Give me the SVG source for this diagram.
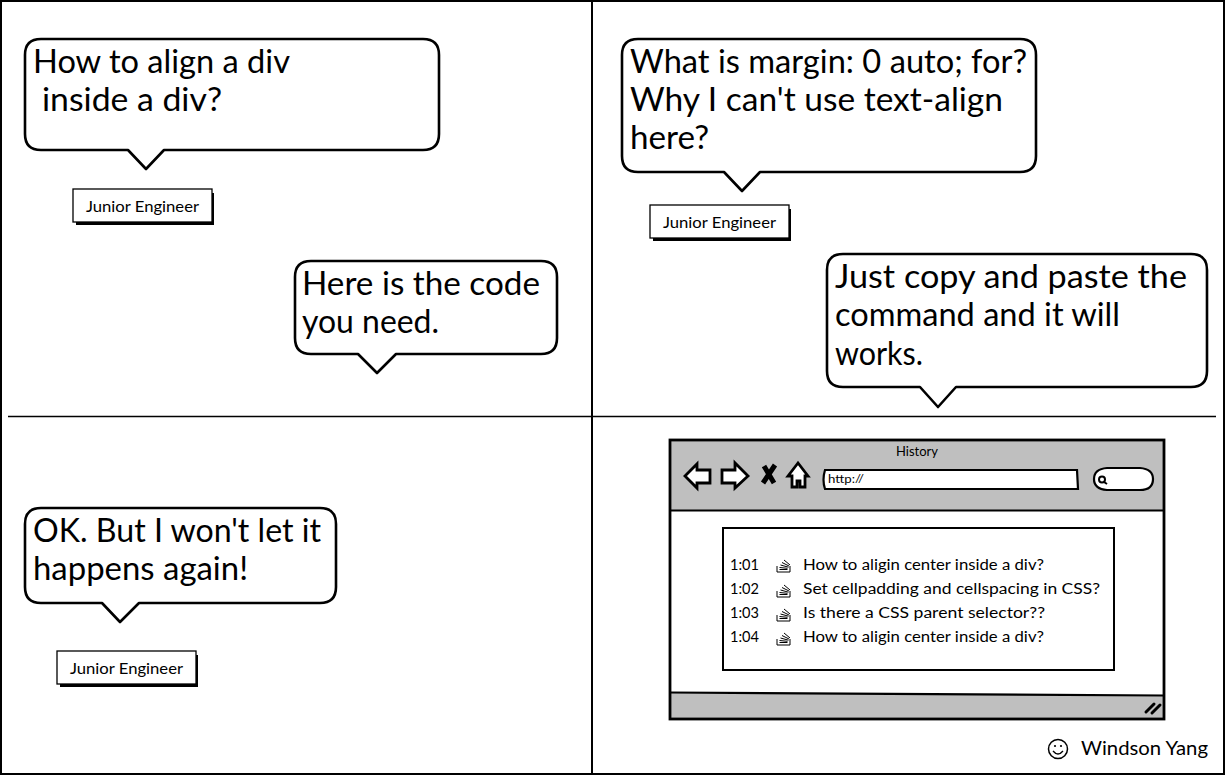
<svg xmlns="http://www.w3.org/2000/svg" width="1225" height="776" viewBox="0 0 1225 776">
<style>
text{font-family:"Lato","Open Sans","Liberation Sans",sans-serif;fill:#000}
.bt{font-size:32.500px}
.sm{font-size:16px}
.bub{fill:#fff;stroke:#000;stroke-width:2.600;stroke-linejoin:round}
.lbl{fill:#fff;stroke:#000;stroke-width:1.300}
.shadow{fill:#000}
.frame{fill:none;stroke:#000;stroke-width:2}
.ic{fill:#fff;stroke:#000;stroke-width:2.800;stroke-linejoin:miter}
.so{fill:none;stroke:#000;stroke-width:1}
</style>
<defs>
<g id="so"><path class="so" d="M-7 2v6h13V2M-4.500 5.500h8M-4.500 3.500l8 .8M-3.500 1l8 2.200M-2-1.500l7 3.500M0-4l6 5"/></g>
<g id="je">
<rect class="shadow" x="3" y="4" width="138" height="32"/>
<rect class="lbl" x="0" y="0" width="139" height="33"/>
<text x="13" y="23" class="sm" textLength="113" lengthAdjust="spacingAndGlyphs">Junior Engineer</text>
</g>
</defs>
<g id="connectors">
<rect class="frame" x="1" y="1" width="1223" height="773"/>
<path class="frame" d="M592 1V774"/>
<path d="M8 416.500H1216" fill="none" stroke="#000" stroke-width="1.500"/>
</g>
<g id="bubble1">
<path class="bub" d="M41 39H423Q439 39 439 55V134Q439 150 423 150H164L146 169L128 150H41Q25 150 25 134V55Q25 39 41 39Z"/>
<text class="bt" x="33" y="73" textLength="257" lengthAdjust="spacingAndGlyphs">How to align a div</text>
<text class="bt" x="42" y="111" textLength="180" lengthAdjust="spacingAndGlyphs">inside a div?</text>
</g>
<g id="label1"><use href="#je" x="73" y="189"/></g>
<g id="bubble2">
<path class="bub" d="M311 261H541Q557 261 557 277V338Q557 354 541 354H396L377 373L358 354H311Q295 354 295 338V277Q295 261 311 261Z"/>
<text class="bt" x="302" y="295" textLength="238" lengthAdjust="spacingAndGlyphs">Here is the code</text>
<text class="bt" x="302" y="333" textLength="137" lengthAdjust="spacingAndGlyphs">you need.</text>
</g>
<g id="bubble3">
<path class="bub" d="M638 39H1020Q1036 39 1036 55V156Q1036 172 1020 172H760L742 191L724 172H638Q622 172 622 156V55Q622 39 638 39Z"/>
<text class="bt" x="630" y="73" textLength="397" lengthAdjust="spacingAndGlyphs">What is margin: 0 auto; for?</text>
<text class="bt" x="630" y="111" textLength="373" lengthAdjust="spacingAndGlyphs">Why I can't use text-align</text>
<text class="bt" x="630" y="149" textLength="79" lengthAdjust="spacingAndGlyphs">here?</text>
</g>
<g id="label2"><use href="#je" x="650" y="205"/></g>
<g id="bubble4">
<path class="bub" d="M843 254H1191Q1207 254 1207 270V371Q1207 387 1191 387H956L938 407L920 387H843Q827 387 827 371V270Q827 254 843 254Z"/>
<text class="bt" x="835" y="288" textLength="352" lengthAdjust="spacingAndGlyphs">Just copy and paste the</text>
<text class="bt" x="835" y="326" textLength="285" lengthAdjust="spacingAndGlyphs">command and it will</text>
<text class="bt" x="835" y="365" textLength="88" lengthAdjust="spacingAndGlyphs">works.</text>
</g>
<g id="bubble5">
<path class="bub" d="M41 508H320Q336 508 336 524V587Q336 603 320 603H139L120 622L102 603H41Q25 603 25 587V524Q25 508 41 508Z"/>
<text class="bt" x="33" y="542" textLength="288" lengthAdjust="spacingAndGlyphs">OK. But I won't let it</text>
<text class="bt" x="33" y="580" textLength="215" lengthAdjust="spacingAndGlyphs">happens again!</text>
</g>
<g id="label3"><use href="#je" x="57" y="651"/></g>
<g id="browser">
<rect x="670" y="440" width="494" height="279" fill="#fff"/>
<rect x="670" y="440" width="494" height="70" fill="#bfbfbf"/>
<path d="M670 693L1164 696V719H670Z" fill="#bfbfbf"/>
<path d="M670 510.500H1164M670 692.500L1164 695.500" fill="none" stroke="#000" stroke-width="2.200"/>
<rect x="670" y="440" width="494" height="279" fill="none" stroke="#000" stroke-width="2.800"/>
<text x="896" y="456" font-size="12.500" textLength="42" lengthAdjust="spacingAndGlyphs">History</text>
<path class="ic" d="M685 476L697 464V470H710V483H697V488Z"/>
<path class="ic" d="M748 476L735 463V470H722V483H735V488Z"/>
<path d="M764 466L774 483M775 465L763 483" fill="none" stroke="#000" stroke-width="5"/>
<path class="ic" d="M798 463L788 476H792V487H797V481H800V487H805V476H808Z"/>
<path fill="#fff" stroke="#000" stroke-width="2.200" d="M825 470H1077L1078 489H825Q822 480 825 470Z"/>
<text x="828" y="483" font-size="12" font-family="Liberation Sans" textLength="36" lengthAdjust="spacingAndGlyphs">http://</text>
<path fill="#fff" stroke="#000" stroke-width="2.200" d="M1107 468H1140Q1153 469 1153 479Q1153 490 1140 490H1107Q1094 489 1094 479Q1094 469 1107 468Z"/>
<circle cx="1102" cy="479.500" r="3" fill="none" stroke="#000" stroke-width="2"/>
<path d="M1104 482l3 2" stroke="#000" stroke-width="2"/>
<path d="M1146 712l8-8M1152 713l8-8" fill="none" stroke="#000" stroke-width="3" stroke-linecap="round"/>
<rect x="723" y="528" width="391" height="142" fill="#fff" stroke="#000" stroke-width="2"/>
<g font-size="15.500">
<text x="730" y="570" textLength="29" lengthAdjust="spacingAndGlyphs">1:01</text>
<text x="730" y="594" textLength="29" lengthAdjust="spacingAndGlyphs">1:02</text>
<text x="730" y="618" textLength="29" lengthAdjust="spacingAndGlyphs">1:03</text>
<text x="730" y="642" textLength="29" lengthAdjust="spacingAndGlyphs">1:04</text>
<text x="803" y="570" textLength="241" lengthAdjust="spacingAndGlyphs">How to aligin center inside a div?</text>
<text x="803" y="594" textLength="297" lengthAdjust="spacingAndGlyphs">Set cellpadding and cellspacing in CSS?</text>
<text x="803" y="618" textLength="242" lengthAdjust="spacingAndGlyphs">Is there a CSS parent selector??</text>
<text x="803" y="642" textLength="241" lengthAdjust="spacingAndGlyphs">How to aligin center inside a div?</text>
</g>
<use href="#so" x="784" y="564"/>
<use href="#so" x="784" y="589"/>
<use href="#so" x="784" y="613"/>
<use href="#so" x="784" y="637"/>
</g>
<g id="signature">
<circle cx="1058" cy="749" r="9.500" fill="none" stroke="#000" stroke-width="1.500"/>
<circle cx="1055" cy="746" r="1.100"/>
<circle cx="1061" cy="746" r="1.100"/>
<path d="M1053 751Q1058 757 1063 751" fill="none" stroke="#000" stroke-width="1.300"/>
<text x="1081" y="755" font-size="18.500" textLength="127" lengthAdjust="spacingAndGlyphs">Windson Yang</text>
</g>
</svg>
